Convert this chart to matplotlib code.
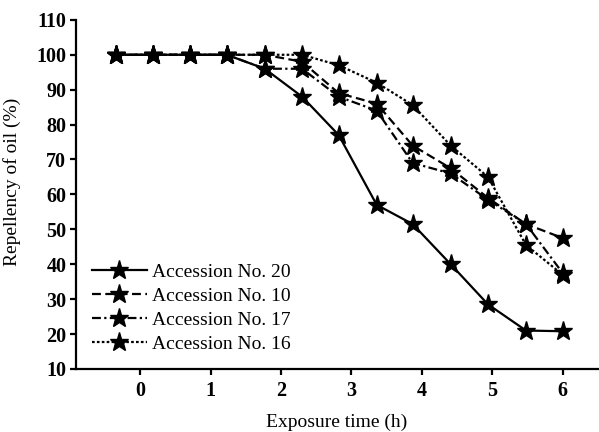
import matplotlib
matplotlib.use("Agg")
import matplotlib.pyplot as plt

plt.rcParams['font.family'] = ['Liberation Serif', 'DejaVu Serif']

# exposure time (h) of each reading
hours = [-0.35, 0.18, 0.71, 1.23, 1.77, 2.30, 2.82, 3.36, 3.87, 4.41, 4.94, 5.48, 6.00]

acc20 = [100, 100, 100, 100, 96, 88, 77, 57, 51.5, 40, 28.5, 21, 20.8]
acc10 = [100, 100, 100, 100, 100, 98, 89, 86, 74, 67.5, 59, 51.5, 47.5]
acc17 = [100, 100, 100, 100, 96, 96, 88, 84, 69, 66, 58.5, 51.5, 37.5]
acc16 = [100, 100, 100, 100, 100, 100, 97, 92, 85.6, 74, 65, 45.5, 37]

labels = ["Accession No. 20", "Accession No. 10", "Accession No. 17", "Accession No. 16"]
series = [acc20, acc10, acc17, acc16]
dashes = [(None, None), (4, 2), (4, 1.5, 1, 1.5), (1.2, 1)]

fig = plt.figure(figsize=(5.99, 4.32), dpi=100)
ax = fig.add_axes([0.127, 0.146, 0.871, 0.808])

for ys, lab, d in zip(series, labels, dashes):
    line, = ax.plot(hours, ys, color='black', lw=1.6, marker='*', markersize=14,
                    markerfacecolor='black', markeredgecolor='black', label=lab)
    if d[0] is not None:
        line.set_dashes(d)

ax.set_xlim(-0.91, 6.5)
ax.set_ylim(10, 110)
ax.set_xticks(range(0, 7))
ax.set_yticks(range(10, 111, 10))

for s in ['top', 'right']:
    ax.spines[s].set_visible(False)
for s in ['left', 'bottom']:
    ax.spines[s].set_linewidth(1.6)

ax.tick_params(direction='out', length=4, width=1.6, labelsize=14.5, pad=3)
ax.tick_params(axis='x', pad=5)
for t in ax.get_xticklabels() + ax.get_yticklabels():
    t.set_fontweight('bold')

ax.set_xlabel("Exposure time (h)", fontsize=14, labelpad=9)
ax.set_ylabel("Repellency of oil (%)", fontsize=14)
ax.yaxis.set_label_coords(-0.105, 0.537)

ax.legend(loc='lower left', bbox_to_anchor=(0.03, 0.045), frameon=False,
          fontsize=14, handlelength=2.85, handletextpad=0.25,
          labelspacing=0.34, borderpad=0, borderaxespad=0)

fig.savefig("out.png", dpi=100)
